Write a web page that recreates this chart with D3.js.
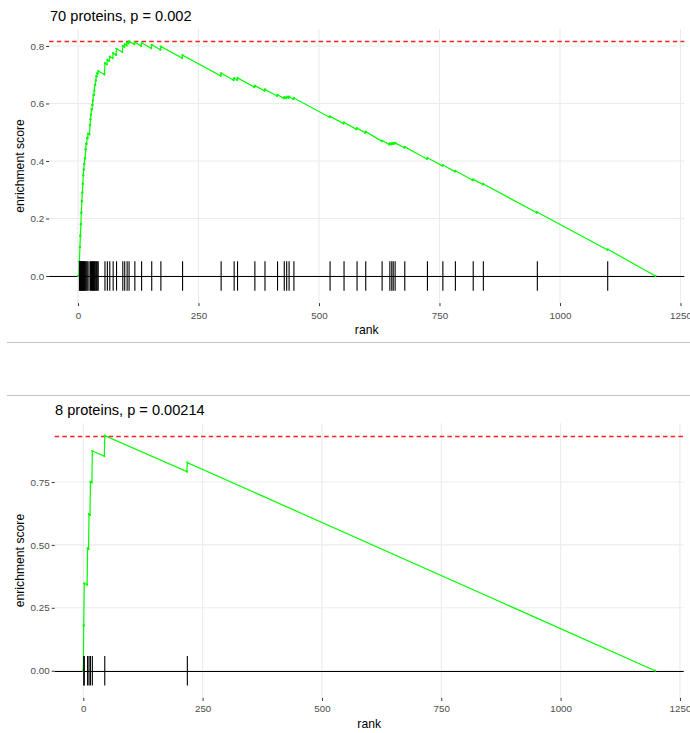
<!DOCTYPE html>
<html><head><meta charset="utf-8">
<script src="https://cdn.jsdelivr.net/npm/d3@7"></script>
<style>
body{margin:0;background:#fff}
svg{display:block}
text{font-family:"Liberation Sans", Arial, Helvetica, sans-serif}
</style>
</head><body>
<svg id="c" width="690" height="733"></svg>
<script>
// ---------- DATA ----------
const xTicks = [0, 250, 500, 750, 1000, 1250];

// Panel 1
const title1 = "70 proteins, p = 0.002";
const n1 = 1197;
const ranks1 = [3,4,5,6,7,8,9,10,11,12,13,14,16,17,19,21,
  25,26,27,28,30,31,32,34,35,37,38,40,42,
  56,61,66,73,80,93,97,102,106,118,132,153,172,217,
  297,324,331,367,388,414,428,433,438,448,523,552,
  579,597,631,647,651,654,658,678,725,757,783,820,841,
  953,1099];
const esBefore1 = [0,0.05,0.10,0.14,0.18,0.22,0.26,0.29,0.32,0.35,0.37,0.39,
  0.409,0.44,0.459,0.479,
  0.492,0.525,0.545,0.56,0.579,0.595,0.61,0.629,0.645,0.664,0.68,0.694,0.704,
  0.701,0.736,0.748,0.758,0.769,0.779,0.797,0.802,0.809,0.806,0.800,0.792,0.787,0.758,
  0.696,0.681,0.682,0.657,0.644,0.626,0.618,0.618,0.619,0.615,0.552,0.530,
  0.510,0.498,0.469,0.457,0.458,0.459,0.460,0.446,0.407,0.383,0.363,0.333,0.318,
  0.220,0.091];
const esAfter1 = [0.05,0.10,0.14,0.18,0.22,0.26,0.29,0.32,0.35,0.37,0.39,0.41,
  0.44,0.46,0.48,0.495,
  0.525,0.545,0.56,0.58,0.595,0.61,0.63,0.645,0.665,0.68,0.695,0.705,0.713,
  0.74,0.752,0.763,0.775,0.79,0.80,0.806,0.812,0.816,0.813,0.811,0.804,0.798,0.768,
  0.705,0.688,0.689,0.662,0.649,0.63,0.622,0.623,0.624,0.619,0.555,0.534,
  0.514,0.502,0.471,0.461,0.462,0.463,0.463,0.449,0.411,0.386,0.366,0.336,0.32,
  0.222,0.093];
const yTicks1 = [0, 0.2, 0.4, 0.6, 0.8];

// Panel 2
const title2 = "8 proteins, p = 0.00214";
const n2 = 1197;
const ranks2 = [1, 2, 9, 12, 15, 19, 45, 218];
const esBefore2 = [0, 0.18, 0.342, 0.484, 0.619, 0.748, 0.853, 0.791];
const esAfter2 = [0.18, 0.347, 0.486, 0.622, 0.751, 0.873, 0.934, 0.827];
const yTicks2 = [0, 0.25, 0.5, 0.75];

// ---------- DRAW ----------
const svg = d3.select("#c");
svg.append("rect").attr("width",690).attr("height",733).attr("fill","#fff");

function drawPanel(cfg) {
  const {n, ranks, before, after, yTicks, yFmt, title, box, titlePos, rankY, ytitleX, xPad} = cfg;
  const maxTop = d3.max(after), minBot = Math.min(0, d3.min(before));
  const diff = (maxTop - minBot) / 8;
  const ylo = Math.min(minBot, -diff/2), yhi = Math.max(maxTop, diff/2);
  const yex = (yhi - ylo) * 0.05;
  const xex = (n + 1) * 0.05;
  const x = d3.scaleLinear().domain([-xex, n + 1 + xex]).range([box.left, box.right]);
  const y = d3.scaleLinear().domain([ylo - yex, yhi + yex]).range([box.bottom, box.top]);
  const g = svg.append("g");

  // grid
  g.selectAll(".gx").data(xTicks).join("line")
    .attr("x1", d => x(d)).attr("x2", d => x(d))
    .attr("y1", box.top).attr("y2", box.bottom)
    .attr("stroke", "#ebebeb").attr("stroke-width", 1.1);
  g.selectAll(".gy").data(yTicks).join("line")
    .attr("x1", box.left).attr("x2", box.right)
    .attr("y1", d => y(d)).attr("y2", d => y(d))
    .attr("stroke", "#ebebeb").attr("stroke-width", 1.1);

  // curve points
  const pts = [[0, 0]];
  ranks.forEach((r, i) => { pts.push([r - 1, before[i]]); pts.push([r, after[i]]); });
  pts.push([n + 1, 0]);

  // red dashed line at the maximum
  const ym = Math.round(y(maxTop)) + 0.5;
  g.append("line").attr("x1", box.left).attr("x2", box.right)
    .attr("y1", ym).attr("y2", ym)
    .attr("stroke", "#ff2020").attr("stroke-width", 1.3)
    .attr("stroke-dasharray", "4.5,3.2");
  // zero line
  const y0 = Math.round(y(0)) + 0.5;
  g.append("line").attr("x1", box.left).attr("x2", box.right)
    .attr("y1", y0).attr("y2", y0)
    .attr("stroke", "#000").attr("stroke-width", 1.2);

  // points
  g.selectAll(".pt").data(pts).join("circle")
    .attr("cx", d => x(d[0])).attr("cy", d => y(d[1])).attr("r", 1.1)
    .attr("fill", "#00ff00");
  // line
  g.append("path").datum(pts)
    .attr("d", d3.line().x(d => x(d[0])).y(d => y(d[1])))
    .attr("fill", "none").attr("stroke", "#00ff00").attr("stroke-width", 1.2);

  // rug ticks
  g.selectAll(".rug").data(ranks).join("line")
    .attr("x1", d => x(d)).attr("x2", d => x(d))
    .attr("y1", y(-diff/2)).attr("y2", y(diff/2))
    .attr("stroke", "#000").attr("stroke-width", 1.1);

  // axes
  const ax = g.append("g").attr("transform", `translate(0,${box.bottom})`)
    .call(d3.axisBottom(x).tickValues(xTicks).tickFormat(d3.format("d")).tickSize(3).tickPadding(xPad));
  const ay = g.append("g").attr("transform", `translate(${box.left},0)`)
    .call(d3.axisLeft(y).tickValues(yTicks).tickFormat(d3.format(yFmt)).tickSize(3).tickPadding(2));
  [ax, ay].forEach(a => {
    a.select(".domain").remove();
    a.selectAll(".tick line").attr("stroke", "#333");
    a.selectAll(".tick text").attr("fill", "#4d4d4d")
      .style("font-size", "9.8px").style("font-family", '"Liberation Sans", Arial, sans-serif');
  });

  // titles
  g.append("text").attr("x", titlePos[0]).attr("y", titlePos[1])
    .style("font-size", "14.6px").attr("fill", "#000").text(title);
  g.append("text").attr("x", (box.left + box.right) / 2).attr("y", rankY)
    .attr("text-anchor", "middle").style("font-size", "12.2px").attr("fill", "#000").text("rank");
  g.append("text").attr("transform", `translate(${ytitleX},${(box.top + box.bottom) / 2}) rotate(-90)`)
    .attr("text-anchor", "middle").style("font-size", "12.2px").attr("fill", "#000").text("enrichment score");
}

drawPanel({
  n: n1, ranks: ranks1, before: esBefore1, after: esAfter1, yTicks: yTicks1, yFmt: ".1f",
  title: title1, box: {left: 49.1, right: 684.3, top: 28.9, bottom: 303.1},
  titlePos: [50, 20.6], rankY: 334, ytitleX: 24, xPad: 5.5
});
drawPanel({
  n: n2, ranks: ranks2, before: esBefore2, after: esAfter2, yTicks: yTicks2, yFmt: ".2f",
  title: title2, box: {left: 54.7, right: 683.7, top: 423.2, bottom: 697.9},
  titlePos: [55, 415], rankY: 728, ytitleX: 24, xPad: 4
});

// screenshot separators
[342.5, 395.5].forEach(yy => {
  svg.append("line").attr("x1", 7).attr("x2", 690).attr("y1", yy).attr("y2", yy)
    .attr("stroke", "#c4c4c4").attr("stroke-width", 1.2);
});
</script>
</body></html>
